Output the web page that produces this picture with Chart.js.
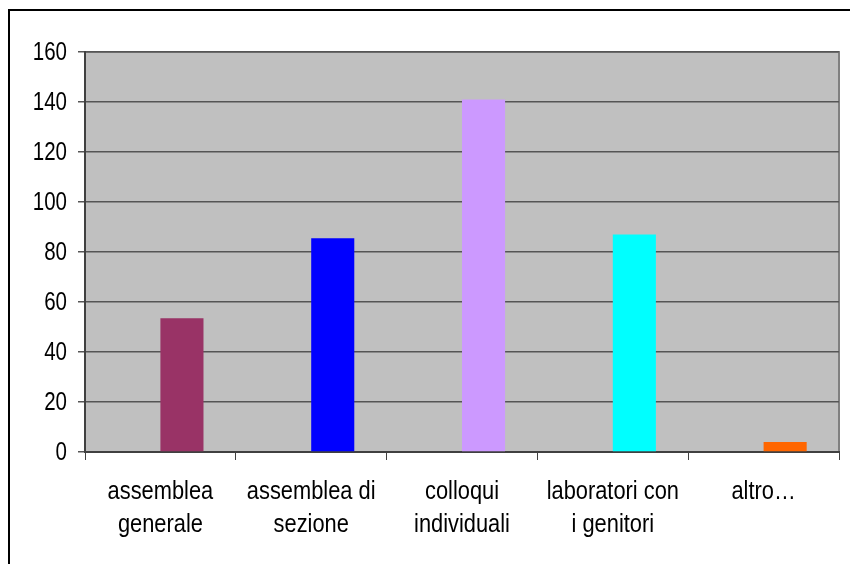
<!DOCTYPE html>
<html>
<head>
<meta charset="utf-8">
<script src="https://cdn.jsdelivr.net/npm/chart.js@4"></script>
<style>
    html, body { margin: 0; padding: 0; background: #fff; }
    #wrap { position: relative; width: 850px; height: 564px; }
</style>
</head>
<body>
<div id="wrap"><canvas id="bar-chart" width="850" height="564"></canvas></div>
<script>
const categories = [
    ['assemblea', 'generale'],
    ['assemblea di', 'sezione'],
    ['colloqui', 'individuali'],
    ['laboratori con', 'i genitori'],
    ['altro…']
];
const values = [53.5, 85.5, 141, 87, 4];
const emptySeries = [null, null, null, null, null];
const barColors = ['#993366', '#0000ff', '#cc99ff', '#00ffff', '#ff6600'];
const yTicks = { min: 0, max: 160, step: 20 };

const fontFamily = '"Liberation Sans", Arial, sans-serif';

const plotBackground = {
    id: 'plotBackground',
    beforeDraw(chart) {
        const { ctx, chartArea: a } = chart;
        ctx.save();
        ctx.fillStyle = '#c0c0c0';
        ctx.fillRect(a.left, a.top, a.right - a.left, a.bottom - a.top);
        ctx.strokeStyle = '#808080';
        ctx.lineWidth = 2;
        ctx.beginPath();
        ctx.moveTo(a.left, a.top);
        ctx.lineTo(a.right, a.top);
        ctx.lineTo(a.right, a.bottom);
        ctx.stroke();
        // outer frame
        ctx.strokeStyle = '#000';
        ctx.lineWidth = 2;
        ctx.strokeRect(9, 10, 900, 600);
        ctx.restore();
    }
};

// the original labels look like a squeezed Arial, so draw them with a horizontal scale
const squeezedLabels = {
    id: 'squeezedLabels',
    afterDraw(chart) {
        const ctx = chart.ctx;
        const xs = chart.scales.x;
        const ys = chart.scales.y;
        ctx.save();
        ctx.fillStyle = '#000';

        ctx.font = '26px ' + fontFamily;
        ctx.textAlign = 'center';
        ctx.textBaseline = 'alphabetic';
        xs.ticks.forEach((t, i) => {
            const x = xs.getPixelForTick(i);
            const lines = [].concat(xs.getLabelForValue(t.value));
            lines.forEach((line, j) => {
                ctx.save();
                ctx.translate(x, xs.top + 47 + j * 33);
                ctx.scale(0.84, 1);
                ctx.fillText(line, 0, 0);
                ctx.restore();
            });
        });

        ctx.font = '25px ' + fontFamily;
        ctx.textAlign = 'right';
        ctx.textBaseline = 'middle';
        ys.ticks.forEach((t, i) => {
            ctx.save();
            ctx.translate(ys.right - 18, ys.getPixelForTick(i) + 1);
            ctx.scale(0.82, 1);
            ctx.fillText(t.label, 0, 0);
            ctx.restore();
        });
        ctx.restore();
    }
};

function createChart() {
    const ctx = document.getElementById('bar-chart');

    ctx.chartInstance = new Chart(ctx, {
        type: 'bar',
        data: {
            labels: categories,
            datasets: [{
                data: emptySeries
            }, {
                data: values,
                backgroundColor: barColors
            }]
        },
        options: {
            responsive: false,
            animation: false,
            datasets: {
                bar: {
                    categoryPercentage: 2 / 3.5,
                    barPercentage: 1
                }
            },
            layout: {
                padding: { top: 52, right: 11, left: 0, bottom: 0 }
            },
            scales: {
                x: {
                    afterFit: function (scale) { scale.height = 112; },
                    grid: {
                        drawOnChartArea: false,
                        drawTicks: true,
                        tickLength: 8,
                        color: '#404040',
                        lineWidth: 1
                    },
                    border: { color: '#404040', width: 2 },
                    ticks: {
                        color: 'rgba(0,0,0,0)',
                        maxRotation: 0,
                        autoSkip: false,
                        font: { family: fontFamily, size: 22 }
                    }
                },
                y: {
                    min: yTicks.min,
                    max: yTicks.max,
                    afterFit: function (scale) { scale.width = 85; },
                    grid: {
                        color: '#555555',
                        lineWidth: 1.5,
                        tickLength: 7
                    },
                    border: { color: '#404040', width: 2 },
                    ticks: {
                        stepSize: yTicks.step,
                        color: 'rgba(0,0,0,0)',
                        font: { family: fontFamily, size: 21 }
                    }
                }
            },
            plugins: {
                legend: { display: false },
                tooltip: { enabled: false }
            }
        },
        plugins: [plotBackground, squeezedLabels]
    });
}

createChart();
</script>
</body>
</html>
